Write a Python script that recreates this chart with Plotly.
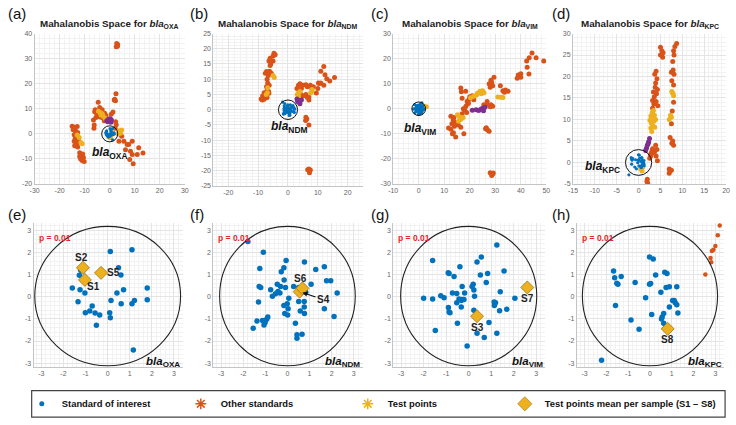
import plotly.graph_objects as go

W, H = 736, 425
BLUE = '#0072BD'; ORANGE = '#D95319'; YELLOW = '#EDB120'; PURPLE = '#7E2F8E'
FONT = 'Liberation Sans, Arial, sans-serif'

# ---------------- data ----------------
# Standard of interest (Mahalanobis coordinates), shared by top and zoomed bottom panels
oxa_std = [(-1.6,0.39),(-1.25,0.32),(-1.03,0.17),(-1.34,-0.23),(-1.01,-0.72),(-0.81,-0.64),(-0.7,-0.42),
           (-0.57,-0.73),(-0.36,-0.83),(-0.51,-1.29),(0.12,2.04),(0.09,-0.72),(0.12,-0.95),(0.15,-0.17),
           (0.42,0.17),(0.49,1.31),(0.6,0.98),(0.72,0.32),(0.61,-0.32),(1.1,2.12),(1.1,-0.32),(1.21,-0.17),
           (1.79,0.39),(1.79,-0.14),(1.16,-2.41),(-1.28,0.97),(-1.22,1.2)]
ndm_std = [(-1.79,2.5),(-1.09,2.01),(-1.25,1.28),(-0.06,1.64),(-0.16,1.31),(-0.28,1.13),(-0.15,0.76),
           (-0.46,0.57),(-0.31,0.46),(-0.43,0.24),(-0.34,0.17),(-0.54,0.13),(-0.76,0.32),(-0.68,0.02),
           (-1.28,0.46),(-1.21,0.42),(-1.31,-0.24),(-0.09,0.42),(0.06,-0.07),(0.28,0.46),(0.51,0.42),
           (0.77,1.57),(1.07,0.57),(1.28,1.23),(1.67,1.35),(1.77,0.72),(1.96,0.72),(2.25,0.17),(1.67,-0.54),
           (2.11,-0.89),(-0.01,-0.32),(0.03,-0.54),(-0.16,-0.39),(0.01,-0.83),(-0.12,-0.76),(0.51,-0.21),
           (0.76,-0.21),(0.76,-0.46),(0.58,-0.64),(0.77,-0.76),(0.36,-1.2),(0.43,-1.72),(0.66,-1.69),
           (0.43,-1.87),(-0.89,-0.91),(-0.94,-1.02),(-1.13,-1.07),(-1.38,-1.1),(-1.01,-1.16),(-1.06,-1.28),
           (-1.55,-1.42),(0.83,0.2)]
vim_std = [(-1.6,1.64),(-2.0,-0.07),(-1.6,-0.1),(-1.24,0.05),(-1.09,-0.04),(-1.48,-1.53),(-0.91,1.08),
           (-0.87,1.05),(-0.65,0.91),(-0.39,1.35),(-0.72,0.17),(-0.53,0.15),(-0.9,-0.49),(-0.87,-0.69),
           (-0.83,-0.72),(-0.5,-1.2),(-0.29,0.46),(-0.18,0.17),(-0.43,-0.1),(-0.33,-0.17),(-0.53,-0.27),
           (-0.29,-0.13),(-0.21,-0.13),(-0.33,-0.46),(-0.07,-2.23),(0.2,0.57),(0.15,0.46),(0.23,0.3),
           (0.26,0.02),(0.37,1.57),(0.56,1.79),(0.52,0.98),(0.84,1.05),(0.78,0.64),(0.23,-0.61),(0.37,-1.65),
           (0.69,-1.84),(0.9,-1.16),(1.13,-0.24),(1.14,-0.39),(1.19,-0.27),(1.25,2.34),(1.25,-1.65),
           (1.37,-0.63),(1.4,0.23),(1.57,1.16),(1.69,-0.57),(2.05,-0.07)]
kpc_std = [(-2.22,-2.87),(-1.67,1.16),(-1.62,0.86),(-1.47,0.57),(-1.52,0.61),(-1.32,0.91),(-1.58,-0.39),
           (-0.68,0.64),(-0.87,-1.05),(-0.5,-1.47),(-0.2,-0.05),(-0.02,1.79),(0.15,1.7),(-0.02,0.57),
           (0.03,0.6),(0.08,-0.8),(0.26,0.98),(0.5,0.2),(0.56,-0.91),(0.53,-1.01),(0.63,-0.76),(0.63,-1.2),
           (0.68,1.11),(0.78,1.05),(0.74,0.42),(0.89,0.45),(0.89,-0.46),(1.04,-0.17),(1.11,-0.17),
           (1.16,-0.27),(1.23,-0.36),(1.23,0.45),(1.28,-0.73)]

# Other standards
oxa_other = [(2.8,36),(3.2,35.6),(2.6,34.7),(3.1,34.9),(2.5,16),(2.0,13.8),(2.3,13.2),(1.8,13.5),
             (-4.6,12.6),(-4,10.5),(-5.8,9.6),(-6,8.8),(-5.2,8),(-3,9.6),(-2,8.2),(-1.5,7.2),(-3.2,6.5),
             (-2.2,5.2),(1.3,8.7),(0.6,7.8),(-6.5,5.5),(-6.2,3.5),(-6.3,2.2),(-5.5,6.5),(-4.2,6.8),
             (2.4,4.8),(2.6,3.6),(2.2,2.2),(4.2,-0.2),(4.8,-1),(3.7,-3),(5.7,-3),(7,-4.3),(7.6,-4.3),
             (9,-3),(6.3,-6.3),(8.3,-6.9),(9,-8.2),(8,-10.2),(9.4,-11.9),(11.6,-5.6),(13.3,-7.6),(11,-8.2),
             (-15,3),(-14,2.6),(-13,2.9),(-14.6,1.6),(-13.6,1.1),(-12.8,0.5),(-14.2,-0.4),(-13.2,-1),
             (-13.8,-2),(-14.2,-3),(-13,-3.8),(-14,-4.8),(-12.8,-5.3),(-13.5,-4.2),(-12.5,-2.5),
             (-12,-7.5),(-11.2,-8.4),(-10.5,-9.4),(-11.6,-10),(-10.2,-11),(-11,-10.6),(-12,-9),(-10.8,-8)]
ndm_other = [(-4.7,18.5),(-4.3,18),(-5,17.6),(-6,16.9),(-6.4,16),(-5.8,15),(-5,16),(-6,14.5),
             (-7.2,12.5),(-6.2,12.6),(-5.6,12),(-7.6,12),(-6.6,11.2),(-7,10),(-6.8,8.8),(-6.3,8),(-7.2,7.5),
             (-8,5.6),(-7.5,5),(-8.5,4.5),(-7,4),(-9,3.5),(-8,3.4),(-7.6,4.4),(-6.5,6),(-7,6.2),(-6.4,5.4),
             (-8.6,3.2),(3.5,8),(4,8.5),(5,8),(6,8.2),(6.5,7.5),(7.5,8),(3,7),(4.5,7),(3.8,6.2),(4.4,5),
             (5,4.5),(6,5),(6.5,4),(7,3.2),(8,6.8),(8.5,7.5),(9.5,5.5),(10,7),(10.5,8.6),(11,8.8),(12,8),
             (11,12.6),(12,14.2),(12.4,11.5),(13,10.2),(14,9.4),(15.6,10.6),(10.2,8.8),(7,4.2),
             (6,-2.5),(6.3,-3),(5.9,-3.5),(7,-5),(7,-19.4),(7.5,-19.8),(6.6,-19.7),(7.2,-20.7)]
vim_other = [(16.5,8.3),(16.7,6.8),(18.4,7),(17,4.2),(19,3),(19.8,3.8),(20.5,4.5),(21,5.2),(21.6,3.6),
             (20,4.8),(19.5,2.2),(17,-2),(18,-0.5),(18.5,1),(19.2,2),(17.5,0),(18.8,-1.5),(12.6,-3),
             (13.5,-4.5),(14.5,-5.5),(13,-6),(15.5,-6.5),(16.5,-7.4),(14,-7),(13.8,-3.5),(11.7,-7.7),
             (13.2,-10),(14.5,-11.3),(17.7,-10),(12.6,-8.2),(13.6,-9.6),(25.5,1.6),(26.8,1.9),(28.3,1.6),
             (29,1),(26.8,2.9),(28,0.8),(29.5,12.6),(28.6,10.6),(27.6,10),(28,8.6),(29,9.2),(28.3,11.4),
             (32,9.2),(33,7.2),(34,7.5),(35,7),(33.6,6.6),(39,13.5),(40,14),(38.6,12.2),(40,12.6),
             (42.3,19),(43.3,20.3),(44.4,22.2),(46,20.3),(49,19),(42.5,16.5),(43.2,13.9),(26.5,-7.6),
             (27,-8.5),(27.6,-9),(26.2,-8),(28,-25.5),(29,-26),(28.6,-26.6),(29.2,-25.6)]
kpc_other_near = [(2.54,1.0),(2.81,1.56),(2.78,1.75),(2.84,2.07),(2.91,2.12),(3.0,2.29),(3.11,2.78),(3.2,3.22)]
kpc_other = [(3.2,12.6),(3.5,13.6),(3.2,14.4),(4,14.2),(3.6,15.3),(4.1,16),(3.8,17.5),(4.3,17),(3.9,18.5),
             (4.2,19.5),(3.7,20.5),(4,21.2),(3.4,16.4),(4.4,13.2),(3.9,4),(4.2,3),(4,1.5),(4.3,0.4),
             (3.6,2.4),(2,-3.9),(2.1,-4.9),(1.9,-4.4),(5,26.8),(5.3,26),(5.6,25.5),(5,25),(5.5,24.5),
             (8.7,27.7),(8.3,27),(8,26),(8.1,25),(7.8,23.5),(7.9,21.5),(7.5,21),(8.1,20.5),(7.6,19),(8,18),
             (8,14),(7.7,12),(7.5,9),(7.2,5.8),(7.6,4.5),(8,4),(7.8,5),(7,-1.5),(7.2,-2),(7.5,-1.8),(7,-2.5)]

# Test points
oxa_test = [(-4.5,9),(-3.8,8.5),(-3,8),(-2.6,7),(-1.8,6.2),(-3.5,7.5),(-13,-0.5),(-12.2,-1.5),
            (-11.5,-3.5),(-11,-4),(3.8,1.2),(4.3,0.2),(4.8,1.5),(3.5,0),(0.6,-0.6),(1,0.4),(-0.4,-1.2),(0.2,-1.6)]
ndm_test = [(-5,11.2),(-4.6,10.6),(-6.8,7.2),(-7.3,5),(-6.9,5.6),(3.5,5.5),(4,6),(3.1,5),(3.5,4.5),
            (8,6),(7.6,5.5),(8.1,6.6),(0.6,0.5),(1,0),(0.7,-0.5)]
vim_test = [(23,6.2),(24,7),(25,7.2),(25.6,6.4),(24.5,6),(20.3,4.4),(21.5,5),(22.6,5.4),(15.2,-2.4),
            (16,-3.2),(16.6,-4.2),(17.4,-3.5),(15.6,-5),(31,4.7),(32,4.6),(33,4.5),(2,1),(3,0.8)]
kpc_test = [(3,7.2),(2.8,8),(3.3,8.5),(2.9,9.2),(3.5,9.6),(3.2,10.2),(2.8,10.8),(3.6,11),(3.1,11.6),
            (3.4,12.1),(3.9,10),(3.7,8.2),(2.6,9.8),(7.6,16.5),(7.9,16),(8,15.5),(7.7,16.2),(7,10),
            (7.5,10.5),(7.3,11),(0.5,-1.5),(0.8,-2),(1,-1)]

# Purple group
oxa_purple = [(-1.2,5.2),(-0.5,5.8),(0,5),(0.5,4.6),(0.2,6),(-0.8,4.8),(0.7,5.5)]
ndm_purple = [(4,3),(3.5,2.5),(4.5,3.2),(3,3.5),(4,2),(3.2,2.8)]
vim_purple = [(21,-0.6),(22.5,-0.4),(23.5,-0.7),(24.3,-0.2),(25,0.2),(26,0.6),(25.4,-0.8)]
kpc_purple = [(1.6,2.8),(1.8,3.3),(2,4),(2.3,4.8),(2.5,5.6),(2.2,4.4)]

# Test points mean per sample
oxa_means = {'S1': (-1.03,0.76), 'S2': (-1.12,1.31), 'S5': (-0.3,1.08)}
ndm_means = {'S4': (0.55,0.23), 'S6': (0.68,0.38)}
vim_means = {'S3': (0.37,-0.88), 'S7': (2.6,0.42)}
kpc_means = {'S8': (0.81,-1.45)}

genes = ['OXA', 'NDM', 'VIM', 'KPC']
letters_top = ['(a)', '(b)', '(c)', '(d)']
letters_bot = ['(e)', '(f)', '(g)', '(h)']
top_xranges = [[-30,30],[-25,25],[-10,50],[-15,20]]
top_yranges = [[-20,40],[-25,25],[-30,30],[-5,30]]
top_xticks = [list(range(-30,31,10)), list(range(-20,21,10)), list(range(-10,51,10)), list(range(-15,21,5))]
top_yticks = [list(range(-20,41,10)), list(range(-25,26,5)), list(range(-30,31,10)), list(range(-5,31,5))]
bot_ticks = [-3,-2,-1,0,1,2,3]
top_circle_r = [3.2, 3.2, 2.7, 3.0]
bot_circle_rx = [3.3, 3.07, 3.02, 3.1]
label_pos_top = [(0,-7.8),(0.5,-5.8),(0.5,-8),(-8.3,-1)]
legend_names = ['Standard of interest', 'Other standards', 'Test points', 'Test points mean per sample (S1 \u2013 S8)']

# ---------------- layout geometry (pixels) ----------------
top_x_px = [(30,182),(211,362),(393,548),(575,730)]
top_y_px = [(30,183),(30,185),(30,183),(30,183)]
bot_x_px = [(29,180),(211,362),(393,547),(579,728)]
bot_y_px = (222.7,369)
letter_x_px = [1, 185, 369, 552]
legend_x_px = [17, 178, 347, 506]

def xd(a,b): return [a/W, b/W]
def yd(t,b): return [1-b/H, 1-t/H]
def unz(pts): return [p[0] for p in pts], [p[1] for p in pts]

std_all = [oxa_std, ndm_std, vim_std, kpc_std]
other_all = [oxa_other, ndm_other, vim_other, kpc_other + kpc_other_near]
test_all = [oxa_test, ndm_test, vim_test, kpc_test]
purple_all = [oxa_purple, ndm_purple, vim_purple, kpc_purple]
means_all = [oxa_means, ndm_means, vim_means, kpc_means]
bot_other = [[], [], [], kpc_other_near]

fig = go.Figure()
layout = dict(width=W, height=H, margin=dict(l=0,r=0,t=0,b=0), paper_bgcolor='white',
              plot_bgcolor='white', font=dict(family=FONT, color='#222'), shapes=[], annotations=[])

def axis_common(dom, rng, ticks, anchor, minor_dt):
    return dict(domain=dom, range=rng, tickvals=ticks, ticktext=[str(t) for t in ticks],
                showgrid=True, gridcolor='#e4e4e4', gridwidth=0.6, zeroline=False, showline=True,
                linecolor='#c4c4c4', linewidth=1, ticks='', anchor=anchor, fixedrange=True,
                tickfont=dict(size=7, color='#666'),
                minor=dict(showgrid=True, gridcolor='#f2f2f2', dtick=minor_dt))

def ref(i):
    return ('x' if i == 1 else f'x{i}'), ('y' if i == 1 else f'y{i}')

def mk(size, color): return dict(size=size, color=color, line=dict(width=0))

for k in range(4):
    # ---- top panel ----
    i = k + 1
    xr, yr = ref(i)
    layout['xaxis' if i == 1 else f'xaxis{i}'] = axis_common(xd(*top_x_px[k]), top_xranges[k], top_xticks[k], yr,
                                                            (top_xticks[k][1]-top_xticks[k][0])/5)
    layout['yaxis' if i == 1 else f'yaxis{i}'] = axis_common(yd(*top_y_px[k]), top_yranges[k], top_yticks[k], xr,
                                                            (top_yticks[k][1]-top_yticks[k][0])/5)
    for pts, col, sz in [(other_all[k], ORANGE, 5), (test_all[k], YELLOW, 5), (purple_all[k], PURPLE, 5),
                         (std_all[k], BLUE, 3.2)]:
        x, y = unz(pts)
        fig.add_trace(go.Scatter(x=x, y=y, mode='markers', marker=mk(sz, col), xaxis=xr, yaxis=yr,
                                 showlegend=False, hoverinfo='skip'))
    r = top_circle_r[k]
    layout['shapes'].append(dict(type='circle', xref=xr, yref=yr, x0=-r, x1=r, y0=-r, y1=r,
                                 line=dict(color='#111', width=1)))
    layout['annotations'].append(dict(xref=xr, yref=yr, x=label_pos_top[k][0], y=label_pos_top[k][1],
                                      text=f'<b><i>bla</i><sub>{genes[k]}</sub></b>', showarrow=False,
                                      xanchor='center', yanchor='middle',
                                      font=dict(size=12, color='#111')))
    cx = (top_x_px[k][0] + top_x_px[k][1]) / 2
    layout['annotations'].append(dict(xref='paper', yref='paper', x=cx/W, y=1-20/H, showarrow=False,
                                      text=f'<b>Mahalanobis Space for <i>bla</i><sub>{genes[k]}</sub></b>',
                                      font=dict(size=9.8, color='#222'), xanchor='center', yanchor='middle'))
    layout['annotations'].append(dict(xref='paper', yref='paper', x=letter_x_px[k]/W,
                                      y=1-10/H, showarrow=False, text=letters_top[k], xanchor='left',
                                      yanchor='middle', font=dict(size=15, color='#111')))

    # ---- bottom panel ----
    j = k + 5
    xr, yr = ref(j)
    layout[f'xaxis{j}'] = axis_common(xd(*bot_x_px[k]), [-3.35, 3.4], bot_ticks, yr, 0.2)
    layout[f'yaxis{j}'] = axis_common(yd(*bot_y_px), [-3.17, 3.33], bot_ticks, xr, 0.2)
    if bot_other[k]:
        x, y = unz(bot_other[k])
        fig.add_trace(go.Scatter(x=x, y=y, mode='markers', marker=mk(4.5, ORANGE), xaxis=xr, yaxis=yr,
                                 showlegend=False, hoverinfo='skip', cliponaxis=False))
    x, y = unz(std_all[k])
    fig.add_trace(go.Scatter(x=x, y=y, mode='markers', marker=mk(5.5, BLUE), xaxis=xr, yaxis=yr,
                             showlegend=False, hoverinfo='skip'))
    names = list(means_all[k].keys())
    mx = [means_all[k][n][0] for n in names]; my = [means_all[k][n][1] for n in names]
    fig.add_trace(go.Scatter(x=mx, y=my, mode='markers', xaxis=xr, yaxis=yr, showlegend=False,
                             hoverinfo='skip',
                             marker=dict(symbol='diamond', size=10, color=YELLOW,
                                         line=dict(color='#9c7414', width=0.8))))
    rx = bot_circle_rx[k]
    layout['shapes'].append(dict(type='circle', xref=xr, yref=yr, x0=-rx, x1=rx, y0=-3.12, y1=3.18,
                                 line=dict(color='#222', width=1.1)))
    layout['annotations'].append(dict(xref=xr, yref=yr, x=-3.22, y=2.64, xanchor='left', showarrow=False,
                                      text='<b>p = 0.01</b>', font=dict(size=8.5, color='#e8262a')))
    layout['annotations'].append(dict(xref=xr, yref=yr, x=3.38, y=-2.93, xanchor='right', showarrow=False,
                                      text=f'<b><i>bla</i><sub>{genes[k]}</sub></b>',
                                      font=dict(size=11.5, color='#111')))
    layout['annotations'].append(dict(xref='paper', yref='paper', x=letter_x_px[k]/W,
                                      y=1-214/H, showarrow=False, text=letters_bot[k], xanchor='left',
                                      yanchor='middle', font=dict(size=15, color='#111')))
    offsets = {'S1': (9,-7), 'S2': (-1,10), 'S5': (12,0), 'S6': (-2,10), 'S7': (0,-11),
               'S3': (0,-11), 'S8': (0,-11)}
    for n in names:
        px_, py_ = means_all[k][n]
        if n == 'S4':
            layout['annotations'].append(dict(xref=xr, yref=yr, x=px_, y=py_, ax=24, ay=8, text='<b>S4</b>',
                                              showarrow=True, arrowhead=2, arrowsize=0.9, arrowwidth=1.1,
                                              arrowcolor='#111', standoff=3,
                                              font=dict(size=10, color='#222')))
        else:
            dx, dy = offsets[n]
            layout['annotations'].append(dict(xref=xr, yref=yr, x=px_, y=py_, xshift=dx, yshift=dy,
                                              text=f'<b>{n}</b>', showarrow=False,
                                              font=dict(size=10, color='#222')))

# ---------------- legend (one legend-only entry per legend box) ----------------
leg_markers = [dict(symbol='circle', size=5, color=BLUE, line=dict(width=0)),
               dict(symbol='asterisk-open', size=9, color=ORANGE, line=dict(color=ORANGE, width=1.5)),
               dict(symbol='asterisk-open', size=9, color=YELLOW, line=dict(color=YELLOW, width=1.5)),
               dict(symbol='diamond', size=11, color=YELLOW, line=dict(color='#9c7414', width=0.6))]
for n, (name, m) in enumerate(zip(legend_names, leg_markers)):
    lname = 'legend' if n == 0 else f'legend{n+1}'
    fig.add_trace(go.Scatter(x=[None], y=[None], mode='markers', marker=m, name=f'<b>{name}</b>',
                             showlegend=True, xaxis='x', yaxis='y', legend=lname))
    layout[lname] = dict(x=legend_x_px[n]/W, y=1-406.5/H, xanchor='left', yanchor='middle',
                         bgcolor='rgba(0,0,0,0)', borderwidth=0, itemsizing='trace',
                         font=dict(family='Liberation Sans Narrow, Arial Narrow, Liberation Sans', size=9.4,
                                   color='#111'))
layout['showlegend'] = True
layout['shapes'].append(dict(type='rect', xref='paper', yref='paper', x0=27/W, x1=729/W, y0=1-420/H,
                             y1=1-393/H, line=dict(color='#444', width=1.2)))

fig.update_layout(**layout)
fig.write_html('out.html', config={'displayModeBar': False},
               post_script="document.body.style.margin='0';document.body.style.overflow='hidden';")
